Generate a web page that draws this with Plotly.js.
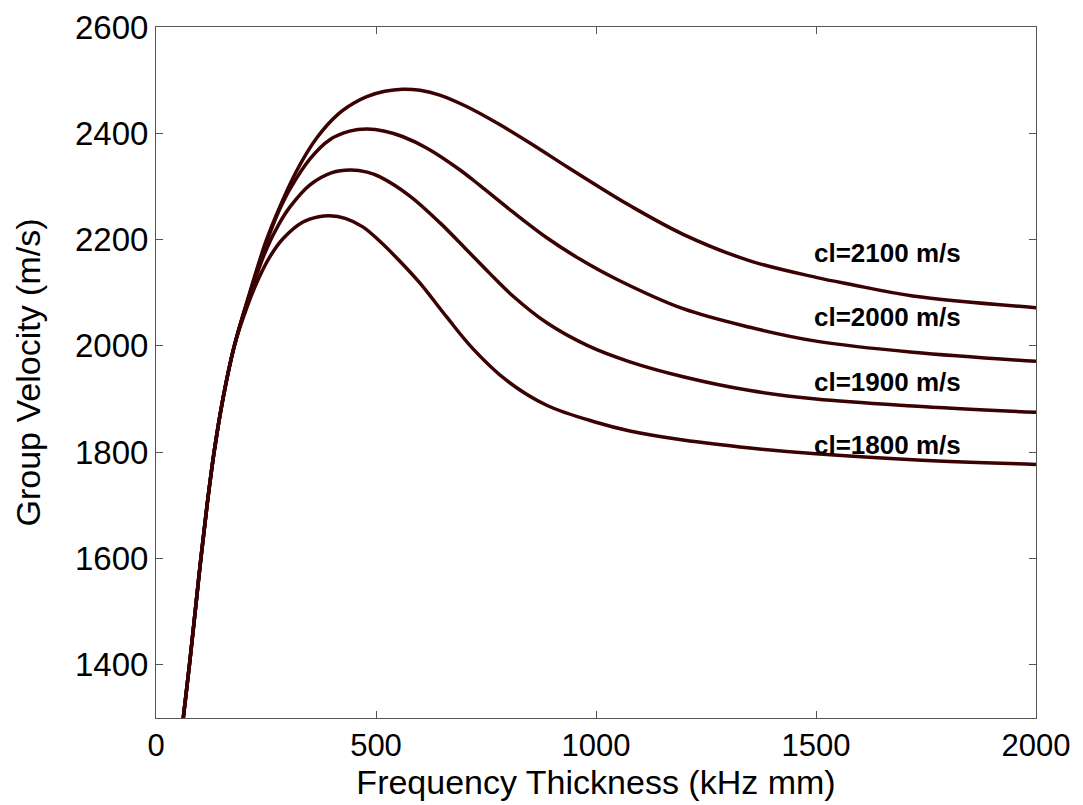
<!DOCTYPE html>
<html>
<head>
<meta charset="utf-8">
<script src="https://cdn.plot.ly/plotly-3.0.1.min.js"></script>
<style>html,body{margin:0;padding:0;background:#fff;}#chart{width:1083px;height:805px;}</style>
</head>
<body>
<div id="chart"></div>
<script>
// Frequency thickness (kHz mm) and group velocity (m/s) for each longitudinal velocity cl
const fx1800 = [62,76,89,102,116,132,152,178,210,235,259,289,334,370,395,430,470,510,550,600,661,720,797,889,1002,1077,1198,1350,1500,1720,2000];
const vg1800 = [1300,1400,1500,1600,1700,1800,1900,2000,2080,2130,2168,2202,2233,2243,2245,2240,2224,2196,2163,2118,2054,1995,1935,1888,1856,1840,1823,1808,1797,1786,1777];

const fx1900 = [62,76,89,102,116,132,152,178,210,250,280,305,350,400,441,480,509,577,645,707,759,811,889,980,1077,1198,1350,1500,1720,2000];
const vg1900 = [1300,1400,1500,1600,1700,1800,1900,2000,2088,2180,2230,2262,2303,2326,2331,2327,2318,2282,2232,2180,2136,2094,2043,2001,1970,1942,1916,1900,1887,1875];

const fx2000 = [62,76,89,102,116,132,152,178,210,250,280,305,350,395,440,479,520,560,616,691,736,811,889,964,1048,1198,1350,1500,1720,2000];
const vg2000 = [1300,1400,1500,1600,1700,1800,1900,2000,2090,2192,2255,2296,2352,2388,2404,2408,2404,2394,2372,2331,2302,2252,2203,2163,2125,2070,2035,2009,1988,1971];

const fx2100 = [62,76,89,102,116,132,152,178,210,250,282,320,366,414,448,479,520,560,600,645,707,782,857,934,1009,1077,1198,1350,1500,1577,1720,2000];
const vg2100 = [1300,1400,1500,1600,1700,1800,1900,2000,2092,2197,2263,2330,2392,2436,2456,2469,2479,2483,2481,2472,2450,2416,2378,2337,2298,2264,2210,2160,2129,2116,2094,2072];

const labels = ["cl=2100 m/s","cl=2000 m/s","cl=1900 m/s","cl=1800 m/s"];
const labelX = [1491,1491,1491,1491];
const labelY = [2175,2055,1932,1814];

const xTicks = [0,500,1000,1500,2000];
const yTicks = [1400,1600,1800,2000,2200,2400,2600];
const xTitle = 'Frequency Thickness (kHz mm)';
const yTitle = 'Group Velocity (m/s)';

const lineColor = '#3a0202';
const fontFam = 'Liberation Sans, Arial, Helvetica, sans-serif';
const series = [[fx2100,vg2100],[fx2000,vg2000],[fx1900,vg1900],[fx1800,vg1800]];
const traces = series.map((s,i)=>({
  x: s[0], y: s[1], type:'scatter', mode:'lines',
  line:{color:lineColor, width:3.5, shape:'spline', smoothing:1},
  name: labels[i], showlegend:false, hoverinfo:'skip'
}));

const annotations = labels.map((t,i)=>({
  x: labelX[i], y: labelY[i], xref:'x', yref:'y', text:'<b>'+t+'</b>', showarrow:false,
  xanchor:'left', yanchor:'middle',
  font:{family:fontFam, size:26, color:'#000'}
}));

const axisCommon = {
  showline:true, mirror:'ticks', linecolor:'#555', linewidth:1,
  ticks:'inside', ticklen:7, tickcolor:'#555', tickwidth:1,
  showgrid:false, zeroline:false
};

const layout = {
  width:1083, height:805,
  margin:{l:156, r:47, t:27, b:87, pad:0},
  paper_bgcolor:'#fff', plot_bgcolor:'#fff',
  xaxis: Object.assign({}, axisCommon, {
    range:[0,2000], tickmode:'array', tickvals:xTicks, ticktext:xTicks.map(String),
    tickfont:{family:fontFam, size:31, color:'#000'},
    title:{text:xTitle, standoff:0,
      font:{family:fontFam, size:34, color:'#000'}}
  }),
  yaxis: Object.assign({}, axisCommon, {
    range:[1300,2600], tickmode:'array', tickvals:yTicks, ticktext:yTicks.map(String),
    tickfont:{family:fontFam, size:33, color:'#000'},
    title:{text:yTitle, standoff:24,
      font:{family:fontFam, size:34, color:'#000'}}
  }),
  annotations: annotations,
  showlegend:false
};

Plotly.newPlot('chart', traces, layout, {displayModeBar:false, staticPlot:true});
</script>
</body>
</html>
